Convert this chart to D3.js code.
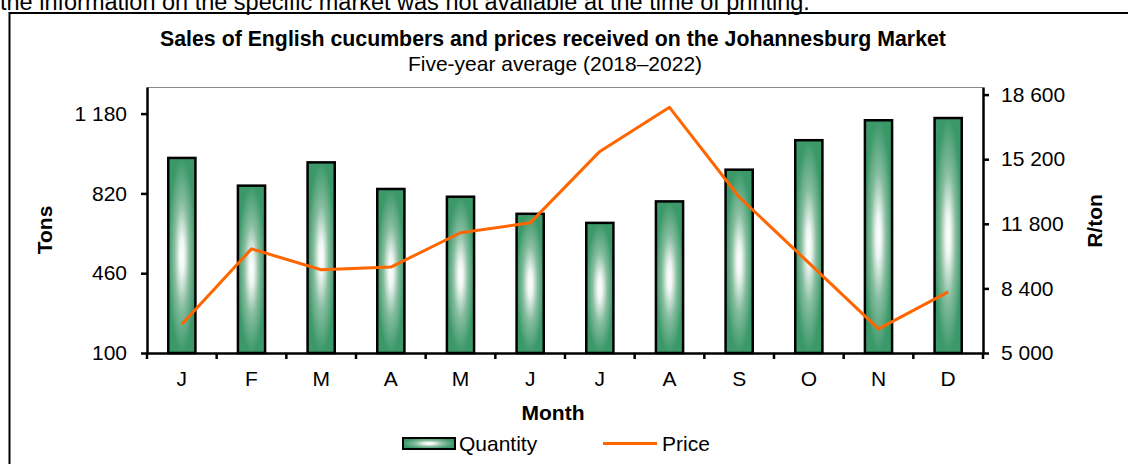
<!DOCTYPE html>
<html>
<head>
<meta charset="utf-8">
<script src="https://cdn.jsdelivr.net/npm/d3@7"></script>
<style>
  body { margin: 0; background: #fff; }
  svg { display: block; font-family: Arial, 'Liberation Sans', sans-serif; }
</style>
</head>
<body>
<div id="chart"></div>
<script>
// data
const months = ['J', 'F', 'M', 'A', 'M', 'J', 'J', 'A', 'S', 'O', 'N', 'D'];
const quantity = [980, 855, 960, 840, 805, 728, 687, 784, 927, 1060, 1150, 1160];
const price = [6510, 10480, 9380, 9520, 11330, 11850, 15610, 17930, 13210, 9740, 6270, 8220];
const tonsTicks = [100, 460, 820, 1180];
const priceTicks = [5000, 8400, 11800, 15200, 18600];

const width = 1128, height = 464;
const plot = { left: 147, right: 983, top: 87, bottom: 353 };
const green = '#3b9869', orange = '#ff6600';

const fmt = d => d3.format(',')(d).replace(/,/g, ' ');

const svg = d3.select('#chart').append('svg')
    .attr('width', width)
    .attr('height', height);

/* gradient for the bars, white in the middle */
const defs = svg.append('defs');
const grad = defs.append('radialGradient')
    .attr('id', 'barGrad')
    .attr('cx', 0.5).attr('cy', 0.5).attr('r', 0.5);
grad.append('stop').attr('offset', '0%').attr('stop-color', '#ffffff');
grad.append('stop').attr('offset', '18%').attr('stop-color', '#f0f6f2');
grad.append('stop').attr('offset', '55%').attr('stop-color', '#86bd9f');
grad.append('stop').attr('offset', '100%').attr('stop-color', green);

/* header text, cut at the top of the page */
svg.append('text')
    .attr('x', 0).attr('y', 9.5)
    .attr('font-size', 23.5)
    .text('the information on the specific market was not available at the time of printing.');

/* outer frame */
svg.append('path')
    .attr('d', `M9.5,${height}V13H${width}`)
    .attr('fill', 'none')
    .attr('stroke', '#000')
    .attr('stroke-width', 2);

/* titles */
svg.append('text')
    .attr('x', 553).attr('y', 46)
    .attr('text-anchor', 'middle')
    .attr('font-size', 21.3).attr('font-weight', 'bold')
    .text('Sales of English cucumbers and prices received on the Johannesburg Market');
svg.append('text')
    .attr('x', 555).attr('y', 71)
    .attr('text-anchor', 'middle')
    .attr('font-size', 21)
    .text('Five-year average (2018–2022)');

/* scales */
const x = d3.scaleBand()
    .domain(d3.range(months.length))
    .range([plot.left, plot.right])
    .paddingInner(0.61).paddingOuter(0.305);
const band = d3.scaleBand()
    .domain(d3.range(months.length))
    .range([plot.left, plot.right]);
const yL = d3.scaleLinear().domain([100, 1300]).range([plot.bottom, plot.top]);
const yR = d3.scaleLinear().domain([5000, 19000]).range([plot.bottom, plot.top]);

/* plot frame top */
svg.append('line')
    .attr('x1', plot.left).attr('x2', plot.right)
    .attr('y1', plot.top + 0.5).attr('y2', plot.top + 0.5)
    .attr('stroke', '#8a8a8a').attr('stroke-width', 1);

/* bars */
svg.append('g').selectAll('rect')
    .data(quantity)
    .join('rect')
    .attr('x', (d, i) => x(i))
    .attr('width', x.bandwidth())
    .attr('y', d => yL(d))
    .attr('height', d => yL(100) - yL(d))
    .attr('fill', 'url(#barGrad)')
    .attr('stroke', '#000')
    .attr('stroke-width', 2.5);

/* price line */
const line = d3.line()
    .x((d, i) => band(i) + band.bandwidth() / 2)
    .y(d => yR(d));
svg.append('path')
    .datum(price)
    .attr('d', line)
    .attr('fill', 'none')
    .attr('stroke', orange)
    .attr('stroke-width', 3)
    .attr('stroke-linejoin', 'round');

/* axes */
const styleAxis = g => {
    g.select('.domain').attr('stroke', '#000').attr('stroke-width', 2.5);
    g.selectAll('.tick line').attr('stroke', '#000').attr('stroke-width', 2.5);
    g.selectAll('.tick text')
        .attr('font-size', 21)
        .attr('font-family', 'Arial, Liberation Sans, sans-serif')
        .attr('fill', '#000');
};

svg.append('g')
    .attr('transform', `translate(${plot.left},0)`)
    .call(d3.axisLeft(yL).tickValues(tonsTicks).tickFormat(fmt).tickSize(6).tickSizeOuter(0).tickPadding(14))
    .call(styleAxis);

svg.append('g')
    .attr('transform', `translate(${plot.right},0)`)
    .call(d3.axisRight(yR).tickValues(priceTicks).tickFormat(fmt).tickSize(6).tickSizeOuter(0).tickPadding(12))
    .call(styleAxis);

const gX = svg.append('g')
    .attr('transform', `translate(0,${plot.bottom})`)
    .call(d3.axisBottom(band).tickFormat(i => months[i]).tickSize(0).tickSizeOuter(0).tickPadding(18))
    .call(styleAxis);
gX.selectAll('.tick text').attr('dy', '0.71em');

/* category boundary ticks */
const bounds = band.domain().map(i => band(i)).concat([plot.right]);
svg.append('g').selectAll('line')
    .data(bounds)
    .join('line')
    .attr('x1', d => d).attr('x2', d => d)
    .attr('y1', plot.bottom).attr('y2', plot.bottom + 6)
    .attr('stroke', '#000').attr('stroke-width', 2.5);

/* axis titles */
svg.append('text')
    .attr('transform', `translate(52,230) rotate(-90)`)
    .attr('text-anchor', 'middle')
    .attr('font-size', 21).attr('font-weight', 'bold')
    .text('Tons');
svg.append('text')
    .attr('transform', `translate(1102,221) rotate(-90)`)
    .attr('text-anchor', 'middle')
    .attr('font-size', 21).attr('font-weight', 'bold')
    .text('R/ton');
svg.append('text')
    .attr('x', 553).attr('y', 420)
    .attr('text-anchor', 'middle')
    .attr('font-size', 21).attr('font-weight', 'bold')
    .text('Month');

/* legend */
const legend = svg.append('g');
legend.append('rect')
    .attr('x', 403).attr('y', 438)
    .attr('width', 52).attr('height', 11)
    .attr('fill', 'url(#barGrad)')
    .attr('stroke', '#000').attr('stroke-width', 2);
legend.append('text')
    .attr('x', 459).attr('y', 451)
    .attr('font-size', 21)
    .text('Quantity');
legend.append('line')
    .attr('x1', 603).attr('x2', 657)
    .attr('y1', 443.5).attr('y2', 443.5)
    .attr('stroke', orange).attr('stroke-width', 3);
legend.append('text')
    .attr('x', 662).attr('y', 451)
    .attr('font-size', 21)
    .text('Price');
</script>
</body>
</html>
